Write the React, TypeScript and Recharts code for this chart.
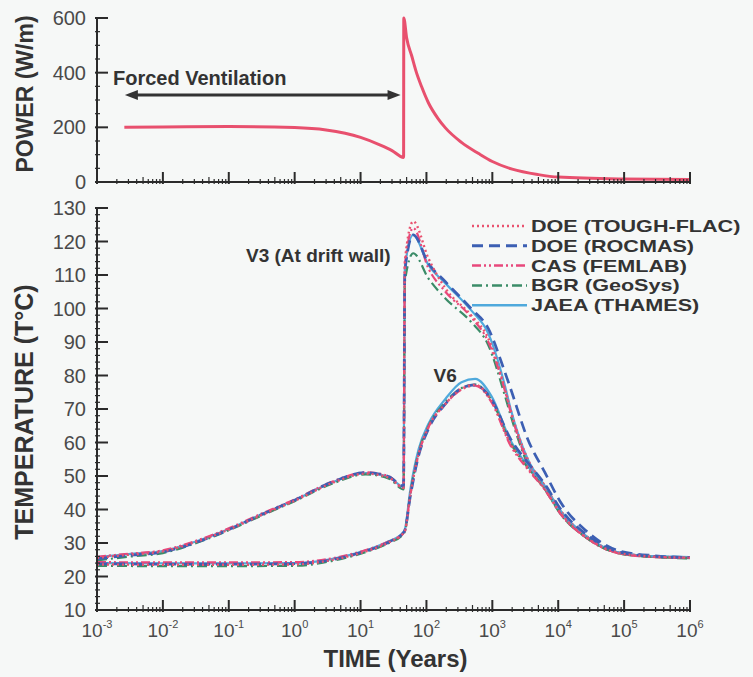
import React from 'react';
import { LineChart, Line, XAxis, YAxis, ReferenceDot, ReferenceLine, Legend } from 'recharts';

const FONT = '"Liberation Sans", Arial, Helvetica, sans-serif';
const AXIS = '#2b2b2b';
const TEXT = '#333333';
const TICK_TEXT = '#4a4a4a';

// ---------- data ----------
const powerTime = [0.0026, 0.01, 0.1, 1, 3, 10, 20, 30, 45, 45.3, 50, 60, 70, 84, 107, 150, 194, 340, 620, 1000, 2000, 5000, 10000, 100000, 1000000];
const powerValue = [200, 201, 203, 199, 190, 163, 135, 115, 90, 600, 528, 460, 403, 350, 290, 232, 198, 145, 104, 75, 47, 27, 18, 11, 9];

const v3Time = [0.001, 0.003, 0.01, 0.03, 0.1, 0.3, 1, 3.6, 12, 27, 45, 47, 63, 107, 194, 475, 870, 1550, 1900, 3450, 6300, 11000, 27000, 89000, 300000, 1000000];
const v6Time = [0.001, 0.01, 0.1, 1, 3.6, 12, 27, 45, 47, 57, 76, 107, 194, 340, 550, 960, 1900, 3450, 6300, 11000, 27000, 89000, 300000, 1000000];

const toughV3 = [25.6, 26.5, 27.5, 30.2, 34.0, 38.2, 42.6, 47.8, 50.7, 49.5, 46.5, 114, 126, 115, 106, 98, 91, 76, 69.5, 55, 47, 39.5, 32, 27, 26, 25.6];
const rocmasV3 = [25.3, 26.3, 27.3, 30.0, 34.0, 38.3, 42.8, 48.1, 51.0, 49.8, 47.0, 111, 122, 113.5, 108, 100, 94, 81, 76, 61, 51, 42, 33.5, 27.5, 26.2, 25.6];
const casV3 = [25.9, 26.8, 27.8, 30.5, 34.4, 38.6, 43.0, 48.2, 51.1, 49.9, 46.5, 113, 124, 112, 105, 97.5, 90, 75.5, 69, 54, 46.5, 39, 31.5, 26.8, 25.9, 25.6];
const bgrV3 = [24.8, 25.9, 27.0, 29.8, 33.8, 38.0, 42.5, 47.6, 50.5, 49.2, 46.0, 108, 116.5, 109, 103, 96, 89, 74, 68, 53.5, 46, 38.5, 31.5, 26.8, 25.8, 25.4];
const jaeaV3 = [25.8, 26.7, 27.6, 30.3, 34.2, 38.4, 42.8, 48, 50.9, 49.7, 46.8, 112, 122, 113, 107.5, 99.5, 92.5, 77, 70, 55, 47, 39.5, 32, 27, 26, 25.8];

const toughV6 = [23.6, 23.5, 23.5, 23.6, 24.9, 27.5, 30.2, 33, 33.5, 44.5, 56.5, 64.5, 71.5, 76, 77.2, 72.5, 59.5, 52.5, 46, 38.8, 31.6, 26.9, 25.9, 25.6];
const rocmasV6 = [23.8, 23.7, 23.7, 23.8, 25.0, 27.6, 30.3, 33.2, 33.8, 44, 56, 64, 71.5, 76.2, 77.2, 73, 61, 54, 47.5, 40, 32.5, 27.2, 26, 25.7];
const casV6 = [24.3, 24.2, 24.2, 24.3, 25.4, 27.9, 30.5, 33, 33.6, 44.5, 56.5, 64.5, 71.5, 75.8, 77, 72.2, 59, 52, 45.8, 38.5, 31.5, 26.8, 25.8, 25.6];
const bgrV6 = [23.2, 23.1, 23.1, 23.2, 24.6, 27.3, 30.0, 32.8, 33.4, 44.8, 57, 64.8, 72, 76.2, 77.3, 72.8, 59.8, 52.5, 46, 38.6, 31.5, 26.8, 25.8, 25.5];
const jaeaV6 = [24.0, 23.9, 23.9, 24.0, 25.2, 27.8, 30.5, 33.2, 34, 46, 58, 65.5, 73, 78, 79, 74, 60.5, 53, 46.5, 39, 31.8, 27, 26, 25.8];

const modelNames = ['DOE (TOUGH-FLAC)', 'DOE (ROCMAS)', 'CAS (FEMLAB)', 'BGR (GeoSys)', 'JAEA (THAMES)'];
const modelV3 = [toughV3, rocmasV3, casV3, bgrV3, jaeaV3];
const modelV6 = [toughV6, rocmasV6, casV6, bgrV6, jaeaV6];

const decadeExponents = [-3, -2, -1, 0, 1, 2, 3, 4, 5, 6];
const minorMultipliers = [2, 3, 4, 5, 6, 7, 8, 9];
const tempTicks = Array.from({ length: 61 }, (_, i) => 10 + i * 2);
const powerTicks = Array.from({ length: 13 }, (_, i) => i * 50);

// ---------- styles ----------
const modelStyles = [
  { color: '#e9526f', dash: '2 3', width: 2.4 },
  { color: '#3c5fb3', dash: '11 6', width: 2.7 },
  { color: '#e8487c', dash: '9 3 2 3 2 3', width: 2.2 },
  { color: '#3b8c68', dash: '10 4 2 4', width: 2.2 },
  { color: '#4fa9dc', dash: undefined as string | undefined, width: 2.2 },
];
const drawOrder = [4, 3, 2, 1, 0];

// ---------- derived ----------
const xTicks: number[] = [];
decadeExponents.forEach((e) => {
  const base = Math.pow(10, e);
  xTicks.push(base);
  if (e < 6) minorMultipliers.forEach((m) => xTicks.push(+(m * base).toPrecision(6)));
});

const powerData = powerTime.map((t, i) => ({ t, v: powerValue[i] }));
const v3Data = modelV3.map((arr) => v3Time.map((t, i) => ({ t, v: arr[i] })));
const v6Data = modelV6.map((arr) => v6Time.map((t, i) => ({ t, v: arr[i] })));

function XTick(props: any) {
  const { x, y, payload, showLabels } = props;
  const v = payload.value;
  const lg = Math.log10(v);
  const e = Math.round(lg);
  const major = Math.abs(lg - e) < 1e-6;
  const lead = v / Math.pow(10, Math.floor(lg + 1e-9));
  const mid = !major && Math.abs(lead - 5) < 1e-6;
  const len = major ? 12 : mid ? 7 : 5;
  return (
    <g>
      <line x1={x} y1={y} x2={x} y2={y - len} stroke={AXIS} strokeWidth={major ? 2 : 1.2} />
      {showLabels && major && (
        <text x={x} y={y + 25} textAnchor="middle" fontFamily={FONT} fontSize={19} fill={TICK_TEXT}>
          10
          <tspan dy={-9} fontSize={11}>
            {e}
          </tspan>
        </text>
      )}
    </g>
  );
}

function YTick(props: any) {
  const { x, y, payload, majorStep } = props;
  const major = payload.value % majorStep === 0;
  return (
    <g>
      <line x1={x} y1={y} x2={x + (major ? 13 : 5)} y2={y} stroke={AXIS} strokeWidth={major ? 2 : 1.2} />
      {major && (
        <text x={x - 9} y={y + 7} textAnchor="end" fontFamily={FONT} fontSize={20} fill={TICK_TEXT}>
          {payload.value}
        </text>
      )}
    </g>
  );
}

function ArrowShape(props: any) {
  const { x1, y1, x2, y2 } = props;
  const h = 13;
  const w = 5;
  return (
    <g>
      <line x1={x1 + h - 2} y1={y1} x2={x2 - h + 2} y2={y2} stroke="#333" strokeWidth={3} />
      <polygon points={`${x1},${y1} ${x1 + h},${y1 - w} ${x1 + h},${y1 + w}`} fill="#333" />
      <polygon points={`${x2},${y2} ${x2 - h},${y2 - w} ${x2 - h},${y2 + w}`} fill="#333" />
    </g>
  );
}

function textLabel(text: string, anchor: 'start' | 'end', size: number) {
  return {
    content: (p: any) => {
      const vb = p.viewBox || {};
      return (
        <text x={vb.x} y={vb.y} textAnchor={anchor} fontFamily={FONT} fontWeight="bold" fontSize={size} fill={TEXT}>
          {text}
        </text>
      );
    },
  };
}

function LegendBox() {
  const rowH = 19.8;
  return (
    <svg width={290} height={112} style={{ overflow: 'visible' }}>
      {modelNames.map((name, i) => {
        const st = modelStyles[i];
        const by = 22 + i * rowH;
        return (
          <g key={name}>
            <line x1={6} x2={61} y1={by - 6} y2={by - 6} stroke={st.color} strokeWidth={st.width + 0.3} strokeDasharray={st.dash} />
            <text
              transform={`translate(65 ${by}) scale(1.27 1)`}
              x={0}
              y={0}
              fontFamily={FONT}
              fontWeight="bold"
              fontSize={17}
              fill={TEXT}
            >
              {name}
            </text>
          </g>
        );
      })}
    </svg>
  );
}

export default function App() {
  return (
    <div style={{ position: 'absolute', left: 0, top: 0, width: 753, height: 677, background: '#f6f8f7', overflow: 'hidden' }}>
      <div style={{ position: 'absolute', left: 0, top: 0 }}>
        <LineChart width={753} height={200} margin={{ top: 18, right: 63, bottom: 0, left: 37 }}>
          <XAxis
            dataKey="t"
            type="number"
            scale="log"
            domain={[0.001, 1000000]}
            allowDataOverflow
            ticks={xTicks}
            interval={0}
            tickSize={0}
            tickLine={false}
            height={18}
            axisLine={{ stroke: AXIS, strokeWidth: 2 }}
            tick={(p: any) => <XTick {...p} showLabels={false} />}
          />
          <YAxis
            type="number"
            domain={[0, 600]}
            ticks={powerTicks}
            interval={0}
            tickSize={0}
            tickLine={false}
            width={60}
            axisLine={{ stroke: AXIS, strokeWidth: 2 }}
            tick={(p: any) => <YTick {...p} majorStep={200} />}
            label={{
              content: (p: any) => {
                const vb = p.viewBox || {};
                const cx = vb.x - 4;
                const cy = vb.y + vb.height / 2 - 6;
                return (
                  <text x={cx} y={cy} transform={`rotate(-90, ${cx}, ${cy})`} textAnchor="middle" fontFamily={FONT} fontWeight="bold" fontSize={23} fill={TEXT}>
                    POWER (W/m)
                  </text>
                );
              },
            }}
          />
          <ReferenceLine
            segment={[{ x: 0.00265, y: 318 }, { x: 40.5, y: 318 }]}
            ifOverflow="visible"
            shape={(p: any) => <ArrowShape {...p} />}
          />
          <ReferenceDot x={0.00175} y={355} r={0} fill="none" stroke="none" label={textLabel('Forced Ventilation', 'start', 20)} />
          <Line data={powerData} dataKey="v" type="monotone" stroke="#e8506e" strokeWidth={3} dot={false} isAnimationActive={false} />
        </LineChart>
      </div>
      <div style={{ position: 'absolute', left: 0, top: 190 }}>
        <LineChart width={753} height={487} margin={{ top: 18, right: 63, bottom: 0, left: 37 }}>
          <XAxis
            dataKey="t"
            type="number"
            scale="log"
            domain={[0.001, 1000000]}
            allowDataOverflow
            ticks={xTicks}
            interval={0}
            tickSize={0}
            tickLine={false}
            height={67}
            axisLine={{ stroke: AXIS, strokeWidth: 2 }}
            tick={(p: any) => <XTick {...p} showLabels />}
            label={{
              content: (p: any) => {
                const vb = p.viewBox || {};
                return (
                  <text x={vb.x + vb.width / 2 + 2} y={vb.y + 57} textAnchor="middle" fontFamily={FONT} fontWeight="bold" fontSize={24} fill={TEXT}>
                    TIME (Years)
                  </text>
                );
              },
            }}
          />
          <YAxis
            type="number"
            domain={[10, 130]}
            ticks={tempTicks}
            interval={0}
            tickSize={0}
            tickLine={false}
            width={60}
            axisLine={{ stroke: AXIS, strokeWidth: 2 }}
            tick={(p: any) => <YTick {...p} majorStep={10} />}
            label={{
              content: (p: any) => {
                const vb = p.viewBox || {};
                const cx = vb.x - 4;
                const cy = vb.y + vb.height / 2 + 3;
                return (
                  <text x={cx} y={cy} transform={`rotate(-90, ${cx}, ${cy})`} textAnchor="middle" fontFamily={FONT} fontWeight="bold" fontSize={25} fill={TEXT}>
                    TEMPERATURE (T°C)
                  </text>
                );
              },
            }}
          />
          <Legend
            layout="vertical"
            align="center"
            verticalAlign="middle"
            wrapperStyle={{ position: 'absolute', left: 466, top: 20, width: 290, height: 112 }}
            content={() => <LegendBox />}
          />
          <ReferenceDot x={28.6} y={113.9} r={0} fill="none" stroke="none" label={textLabel('V3 (At drift wall)', 'end', 19)} />
          <ReferenceDot x={128} y={78.1} r={0} fill="none" stroke="none" label={textLabel('V6', 'start', 19)} />
          {drawOrder.map((i) => (
            <Line
              key={'v3-' + i}
              data={v3Data[i]}
              dataKey="v"
              name={modelNames[i]}
              type="monotone"
              stroke={modelStyles[i].color}
              strokeWidth={modelStyles[i].width}
              strokeDasharray={modelStyles[i].dash}
              dot={false}
              isAnimationActive={false}
            />
          ))}
          {drawOrder.map((i) => (
            <Line
              key={'v6-' + i}
              data={v6Data[i]}
              dataKey="v"
              name={modelNames[i] + ' V6'}
              legendType="none"
              type="monotone"
              stroke={modelStyles[i].color}
              strokeWidth={modelStyles[i].width}
              strokeDasharray={modelStyles[i].dash}
              dot={false}
              isAnimationActive={false}
            />
          ))}
        </LineChart>
      </div>
    </div>
  );
}
